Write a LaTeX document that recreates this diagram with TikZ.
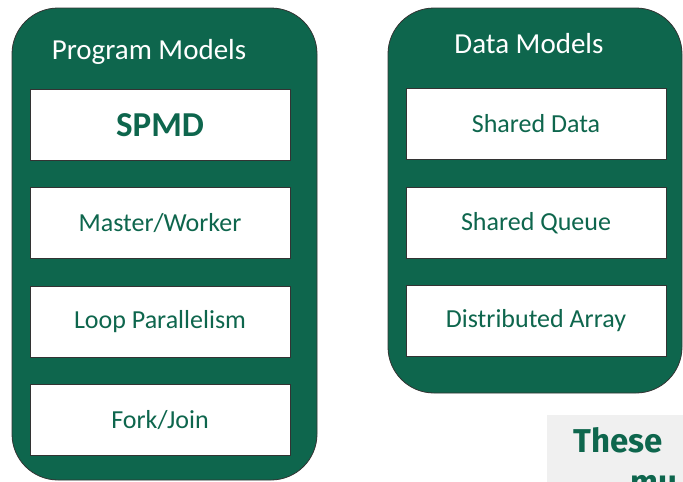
\documentclass[tikz,border=0pt]{standalone}
\usepackage{fontspec}
\setmainfont{Carlito}
\newfontfamily\notefont{Fira Sans}
\definecolor{pgreen}{RGB}{14,102,77}
\definecolor{notegray}{RGB}{240,240,240}
\begin{document}
\begin{tikzpicture}[x=1pt,y=-1pt,
  panel/.style={fill=pgreen,draw=black!80,line width=0.8pt,rounded corners=46pt},
  itembox/.style={draw=black!80,fill=white,line width=0.8pt,minimum width=260pt,minimum height=71pt,inner sep=0pt,
    text=pgreen,font=\fontsize{26}{30}\selectfont},
  title/.style={text=white,font=\fontsize{29}{34}\selectfont,inner sep=0pt}]
\useasboundingbox (0,0) rectangle (683,482);
\begin{scope}
\clip (0,0) rectangle (683,482);
% left panel
\draw[panel] (12,8) rectangle (317,480);
\node[title] (ptitle) at (149,52) {Program Models};
\node[itembox,font=\fontsize{35}{40}\selectfont\bfseries] (spmd) at (160,125) {SPMD};
\node[itembox] (mw) at (160,223) {Master/Worker};
\node[itembox] (loop) at (160,322) {Loop Parallelism};
\node[itembox] (fj) at (160,420) {Fork/Join};
% right panel
\draw[panel] (388,8) rectangle (682,393);
\node[title] (dtitle) at (529,44) {Data Models};
\node[itembox] (sd) at (536,124) {Shared Data};
\node[itembox] (sq) at (536,223) {Shared Queue};
\node[itembox] (da) at (536,321) {Distributed Array};
% note
\fill[notegray] (547,415) rectangle (683,482);
\node[anchor=base west,inner sep=0pt,text=pgreen,font=\notefont\fontsize{33}{38}\selectfont\bfseries] (these) at (573,452) {These};
\node[anchor=base west,inner sep=0pt,text=pgreen,font=\notefont\fontsize{33}{38}\selectfont\bfseries] (mu) at (630,493) {mu};
\end{scope}
\end{tikzpicture}
\end{document}
